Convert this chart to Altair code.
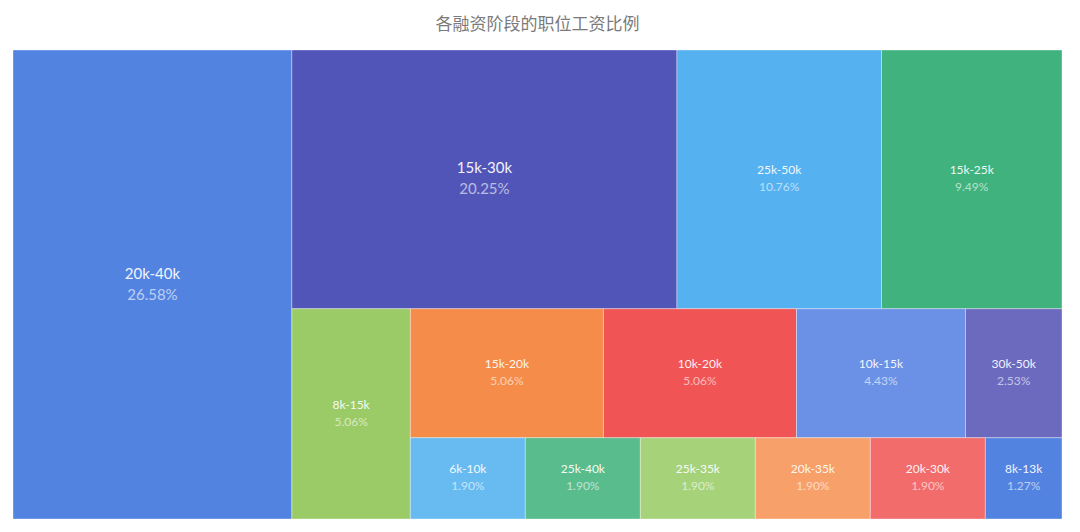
import altair as alt
import pandas as pd

title_text = "各融资阶段的职位工资比例"
names = ["20k-40k", "15k-30k", "25k-50k", "15k-25k", "8k-15k", "15k-20k", "10k-20k",
         "10k-15k", "30k-50k", "6k-10k", "25k-40k", "25k-35k", "20k-35k", "20k-30k", "8k-13k"]
counts = [42, 32, 17, 15, 8, 8, 8, 7, 4, 3, 3, 3, 3, 3, 2]
palette = ["#5383E0", "#5155B8", "#55B1EF", "#40B27D", "#9BCB66", "#F68C4A", "#F05454",
           "#6A91E6", "#6B6ABF", "#68BBF0", "#59BC8C", "#A6D37A", "#F8A06A", "#F26C6C", "#5383E0"]

W, H = 1049, 469  # layout box (same as plot area)


def worst(row, L):
    s = sum(row)
    f = L * L
    return max(f * max(row) / (s * s), (s * s) / (f * min(row)))


def squarify_alternating(values, w, h):
    total = sum(values)
    areas = [v / total * w * h for v in values]
    x, y = 0.0, 0.0
    along_h = h <= w
    out = []
    i, n = 0, len(areas)
    while i < n:
        L = h if along_h else w
        row = [areas[i]]
        i += 1
        best = worst(row, L)
        while i < n:
            cand = row + [areas[i]]
            s = worst(cand, L)
            if s <= best:
                row, best = cand, s
                i += 1
            else:
                break
        thick = sum(row) / L
        if i >= n:
            thick = w if along_h else h
        pos = 0.0
        for k, a in enumerate(row):
            step = a / thick
            if k == len(row) - 1:
                step = L - pos
            if along_h:
                out.append((x, x + thick, y + pos, y + pos + step))
            else:
                out.append((x + pos, x + pos + step, y, y + thick))
            pos += step
        if along_h:
            x += thick
            w -= thick
        else:
            y += thick
            h -= thick
        along_h = not along_h
    return out


rects = squarify_alternating(counts, W, H)
total = sum(counts)
df = pd.DataFrame({
    "name": names,
    "count": counts,
    "x0": [r[0] for r in rects],
    "x1": [r[1] for r in rects],
    "y0": [r[2] for r in rects],
    "y1": [r[3] for r in rects],
})
df["cx"] = (df.x0 + df.x1) / 2
df["cy"] = (df.y0 + df.y1) / 2
df["pct"] = [f"{c / total * 100:.2f}%" for c in counts]

xs = alt.Scale(domain=[0, W], nice=False, zero=False)
ys = alt.Scale(domain=[0, H], nice=False, zero=False, reverse=True)

base = alt.Chart(df)

rect = base.mark_rect(stroke="white", strokeWidth=1, strokeOpacity=0.35).encode(
    x=alt.X("x0:Q", scale=xs, axis=None),
    x2="x1:Q",
    y=alt.Y("y0:Q", scale=ys, axis=None),
    y2="y1:Q",
    color=alt.Color("name:N", scale=alt.Scale(domain=names, range=palette), legend=None),
    tooltip=["name:N", "count:Q", "pct:N"],
)

font = "Lato"


def labels(field, dy, size, opacity, big):
    flt = "datum.count >= 30" if big else "datum.count < 30"
    return base.transform_filter(flt).mark_text(
        font=font, fontSize=size, color="white", opacity=opacity, dy=dy,
        baseline="middle", align="center"
    ).encode(
        x=alt.X("cx:Q", scale=xs),
        y=alt.Y("cy:Q", scale=ys),
        text=f"{field}:N",
    )


chart = alt.layer(
    rect,
    labels("name", -9, 12, 0.92, False),
    labels("pct", 8, 12, 0.6, False),
    labels("name", -11, 15, 0.92, True),
    labels("pct", 10, 15, 0.6, True),
).properties(
    width=W,
    height=H,
    title=alt.TitleParams(title_text, fontSize=17, color="#7a7a7a", font="Noto Sans CJK SC",
                          fontWeight="normal", anchor="middle", offset=16),
    padding={"left": 4, "top": 7, "right": 0, "bottom": 0},
).configure_view(stroke=None)

chart.save("out.html", embed_options={"renderer": "svg", "actions": False})
